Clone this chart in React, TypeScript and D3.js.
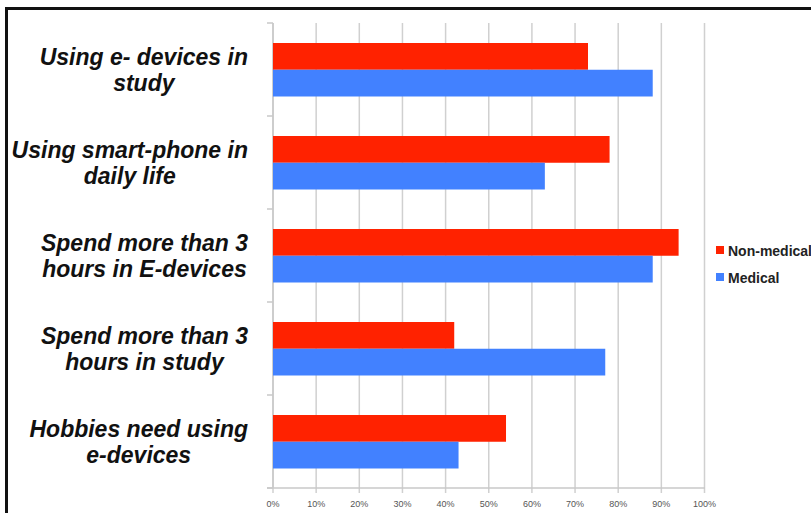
import React from "react";
import * as d3 from "d3";

const categories: string[][] = [
  ["Using e- devices in", "study"],
  ["Using smart-phone in", "daily life"],
  ["Spend more than 3", "hours in E-devices"],
  ["Spend more than 3", "hours in study"],
  ["Hobbies need using", "e-devices"],
];
const nonMedical = [73, 78, 94, 42, 54];
const medical = [88, 63, 88, 77, 43];
const seriesNames = ["Non-medical", "Medical"];
const ticks = [0, 10, 20, 30, 40, 50, 60, 70, 80, 90, 100];

const LABEL_FONT = "italic bold 23px 'Liberation Sans', Arial, sans-serif";

function measure(text: string): number {
  if (typeof document === "undefined") return text.length * 11;
  const c = document.createElement("canvas");
  const ctx = c.getContext("2d");
  if (!ctx) return text.length * 11;
  ctx.font = LABEL_FONT;
  return ctx.measureText(text).width;
}

export default function App() {
  const W = 811, H = 513;
  const x = d3.scaleLinear().domain([0, 100]).range([273, 704.5]);
  const y = d3.scaleBand<number>().domain(d3.range(categories.length)).range([23, 488]);
  const inner = d3.scaleBand<string>().domain(seriesNames).range([20, 73.5]);
  const colors = ["#ff2200", "#4281ff"];
  const series = [nonMedical, medical];
  const labelRight = 248;
  return (
    <svg width={W} height={H} style={{ position: "absolute", left: 0, top: 0, background: "#fff" }}>
      <rect x={0} y={0} width={W} height={H} fill="#fff" />
      {/* frame */}
      <path d={`M6.5,${H + 10} V8.5 H${W + 10}`} fill="none" stroke="#111" strokeWidth={3} />
      {/* gridlines */}
      {ticks.map((t) => (
        <line key={t} x1={x(t)} x2={x(t)} y1={23} y2={493} stroke="#d0d0d0" strokeWidth={1.5} />
      ))}
      {/* left axis */}
      <line x1={273} x2={273} y1={23} y2={488} stroke="#c8c8c8" strokeWidth={1.5} />
      {d3.range(categories.length + 1).map((i) => {
        const yy = i < categories.length ? (y(i) as number) : 488;
        return <line key={i} x1={267} x2={273} y1={yy} y2={yy} stroke="#c8c8c8" strokeWidth={1.5} />;
      })}
      {/* bottom axis */}
      <line x1={267} x2={705} y1={488} y2={488} stroke="#c8c8c8" strokeWidth={1.5} />
      {ticks.map((t) => (
        <text key={t} x={x(t)} y={507} textAnchor="middle" fontFamily="Liberation Sans, Arial, sans-serif" fontSize={9} fill="#555">
          {t}%
        </text>
      ))}
      {/* bars */}
      {categories.map((c, i) =>
        series.map((s, j) => (
          <rect
            key={`${i}-${j}`}
            x={x(0)}
            y={(y(i) as number) + (inner(seriesNames[j]) as number)}
            width={x(s[i]) - x(0)}
            height={inner.bandwidth()}
            fill={colors[j]}
          />
        ))
      )}
      {/* category labels */}
      {categories.map((c, i) => {
        const cy = (y(i) as number) + y.bandwidth() / 2;
        const maxW = Math.max(...c.map(measure));
        const cx = labelRight - maxW / 2;
        return (
          <text key={i} textAnchor="middle" fontFamily="'Liberation Sans', Arial, sans-serif" fontSize={23} fontWeight="bold" fontStyle="italic" fill="#111">
            <tspan x={cx} y={cy - 5}>{c[0]}</tspan>
            <tspan x={cx} y={cy + 21}>{c[1]}</tspan>
          </text>
        );
      })}
      {/* legend */}
      {seriesNames.map((n, j) => (
        <g key={n}>
          <rect x={716} y={246 + j * 27} width={8} height={8} fill={colors[j]} />
          <text x={728} y={256 + j * 27} fontFamily="Liberation Sans, Arial, sans-serif" fontSize={14} fontWeight="bold" fill="#222">
            {n}
          </text>
        </g>
      ))}
    </svg>
  );
}
